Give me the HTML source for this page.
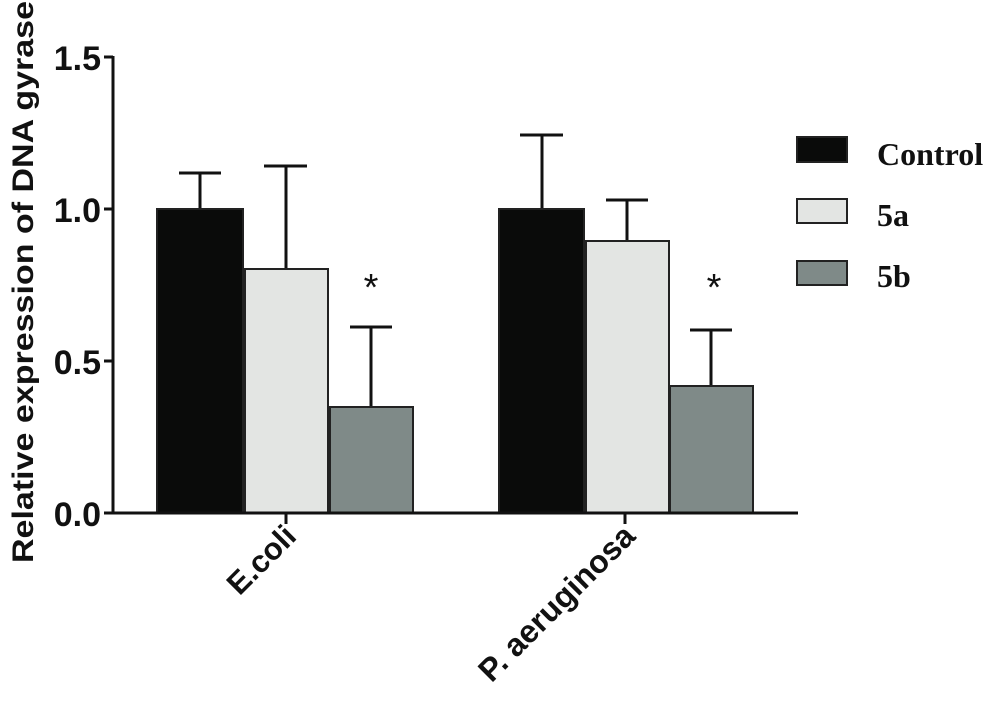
<!DOCTYPE html>
<html><head><style>body{margin:0;background:#fff}</style></head><body>
<svg width="999" height="715" xmlns="http://www.w3.org/2000/svg">
<g stroke="#111" stroke-width="3" fill="none">
<line x1="200" y1="209" x2="200" y2="173"/><line x1="179" y1="173" x2="221" y2="173"/>
<line x1="286" y1="269" x2="286" y2="166"/><line x1="264" y1="166" x2="307" y2="166"/>
<line x1="371" y1="407" x2="371" y2="327"/><line x1="350" y1="327" x2="392" y2="327"/>
<line x1="542" y1="209" x2="542" y2="135"/><line x1="520" y1="135" x2="563" y2="135"/>
<line x1="627" y1="241" x2="627" y2="200"/><line x1="606" y1="200" x2="648" y2="200"/>
<line x1="711" y1="386" x2="711" y2="330"/><line x1="690" y1="330" x2="732" y2="330"/>
</g>
<g stroke="#222" stroke-width="2">
<rect x="157" y="209" width="86" height="304" fill="#0a0b0a"/>
<rect x="245" y="269" width="83" height="244" fill="#e3e5e3"/>
<rect x="330" y="407" width="83" height="106" fill="#7f8a88"/>
<rect x="499" y="209" width="85" height="304" fill="#0a0b0a"/>
<rect x="586" y="241" width="83" height="272" fill="#e3e5e3"/>
<rect x="670" y="386" width="83" height="127" fill="#7f8a88"/>
<rect x="797" y="137" width="50" height="25" fill="#0a0b0a"/>
<rect x="797" y="199" width="50" height="24" fill="#e3e5e3"/>
<rect x="797" y="261" width="50" height="24" fill="#7f8a88"/>
</g>
<g stroke="#111" stroke-width="3">
<line x1="113" y1="56" x2="113" y2="514"/>
<line x1="112" y1="513" x2="798" y2="513"/>
<line x1="104" y1="57" x2="113" y2="57"/><line x1="104" y1="209" x2="113" y2="209"/>
<line x1="104" y1="361" x2="113" y2="361"/><line x1="104" y1="513" x2="113" y2="513"/>
<line x1="286" y1="513" x2="286" y2="524"/><line x1="625" y1="513" x2="625" y2="524"/>
</g>
<g font-family="Liberation Sans, sans-serif" font-weight="bold" font-size="34" fill="#111" text-anchor="end">
<text x="101" y="70">1.5</text><text x="101" y="222">1.0</text><text x="101" y="374">0.5</text><text x="101" y="526">0.0</text>
<text transform="translate(298,538) rotate(-45)" font-size="31">E.coli</text>
<text transform="translate(637,538) rotate(-45)" font-size="32">P. aeruginosa</text>
<text transform="translate(33,282) rotate(-90)" text-anchor="middle" font-size="30" textLength="562" lengthAdjust="spacingAndGlyphs">Relative expression of DNA gyrase</text>
</g>
<g font-family="Liberation Sans, sans-serif" font-size="38" fill="#111" text-anchor="middle">
<text x="371" y="300">*</text><text x="714" y="300">*</text>
</g>
<g font-family="Liberation Serif, serif" font-weight="bold" font-size="32" fill="#111">
<text x="877" y="165">Control</text><text x="877" y="226">5a</text><text x="877" y="287">5b</text>
</g>
</svg>
</body></html>
